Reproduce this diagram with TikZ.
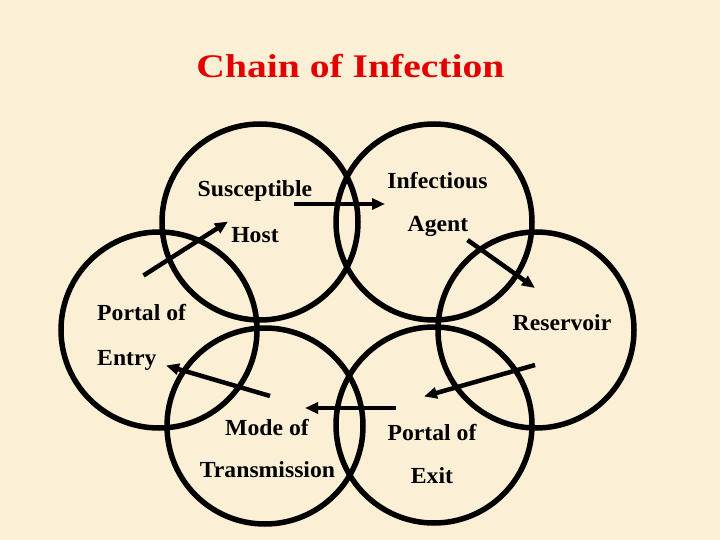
\documentclass[tikz,border=0pt]{standalone}
\usepackage{fontspec}
\setmainfont{Liberation Serif}
\newfontfamily\titlefont[FakeStretch=1.2]{Liberation Serif}
\newfontfamily\labelfont[FakeStretch=1.03]{Liberation Serif}
\usetikzlibrary{arrows.meta}
\definecolor{bgbeige}{RGB}{251,240,214}
\definecolor{titlered}{RGB}{226,0,0}
\begin{document}
\begin{tikzpicture}[x=1pt,y=-1pt,
  ring/.style={circle,draw=black,line width=5.5pt,minimum size=196pt,inner sep=0pt},
  lbl/.style={inner sep=0pt,font=\labelfont\bfseries\fontsize{23}{27}\selectfont},
  flow/.style={line width=4.5pt,-{Triangle[length=13pt,width=11pt]}}]
\fill[bgbeige] (0,0) rectangle (720,540);
\useasboundingbox (0,0) rectangle (720,540);
% title
\node[anchor=base,inner sep=0pt,text=titlered,font=\titlefont\bfseries\fontsize{33}{40}\selectfont] (title) at (350.5,78) {Chain of Infection};
% circles
\node[ring] (host) at (260,222) {};
\node[ring] (agent) at (434,222) {};
\node[ring] (entry) at (159,330) {};
\node[ring] (reservoir) at (536,330) {};
\node[ring] (mode) at (265,426) {};
\node[ring] (exit) at (434,425) {};
% labels
\node[lbl,anchor=base] (t1) at (255,196.5) {Susceptible};
\node[lbl,anchor=base] (t2) at (255,243) {Host};
\node[lbl,anchor=base] (t3) at (437.5,189) {Infectious};
\node[lbl,anchor=base] (t4) at (438,231) {Agent};
\node[lbl,anchor=base west] (t5) at (97,320.5) {Portal of};
\node[lbl,anchor=base west] (t6) at (97,365) {Entry};
\node[lbl,anchor=base] (t7) at (562,330) {Reservoir};
\node[lbl,anchor=base] (t8) at (267,435) {Mode of};
\node[lbl,anchor=base] (t9) at (267.5,477.5) {Transmission};
\node[lbl,anchor=base] (t10) at (432,440.5) {Portal of};
\node[lbl,anchor=base] (t11) at (432,483.5) {Exit};
% arrow end points
\coordinate (a1s) at (143.5,275.5);
\coordinate (a1e) at (228,221.5);
\coordinate (a2s) at (294,204);
\coordinate (a2e) at (385,204);
\coordinate (a3s) at (467.5,240);
\coordinate (a3e) at (535,288);
\coordinate (a4s) at (535,365);
\coordinate (a4e) at (424,396.5);
\coordinate (a5s) at (396,408);
\coordinate (a5e) at (305,408);
\coordinate (a6s) at (270,396);
\coordinate (a6e) at (166,365.5);
% arrows
\draw[flow] (a1s) -- (a1e);
\draw[flow] (a2s) -- (a2e);
\draw[flow] (a3s) -- (a3e);
\draw[flow] (a4s) -- (a4e);
\draw[flow] (a5s) -- (a5e);
\draw[flow] (a6s) -- (a6e);
\end{tikzpicture}
\end{document}
